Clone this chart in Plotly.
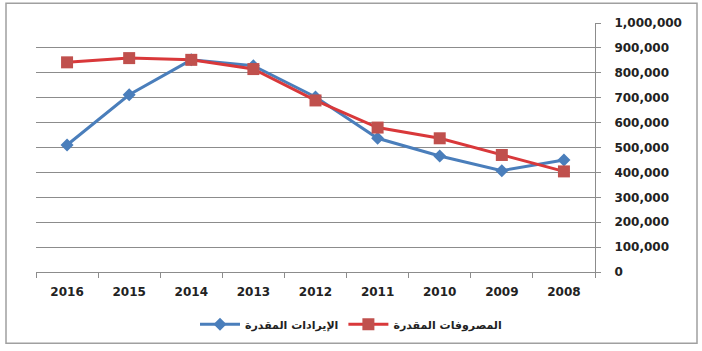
import plotly.graph_objects as go

years = ["2016", "2015", "2014", "2013", "2012", "2011", "2010", "2009", "2008"]
revenues = [510000, 712000, 852000, 828000, 703000, 537000, 466000, 407000, 450000]
expenses = [842000, 859000, 852000, 815000, 689000, 580000, 537000, 470000, 404000]
rev_name = "الإيرادات المقدرة"
exp_name = "المصروفات المقدرة"
y_ticks = [0, 100000, 200000, 300000, 400000, 500000, 600000, 700000, 800000, 900000, 1000000]

W, H = 702, 351
L, R, T, B = 36, 107, 23, 76
pw, ph = W - L - R, H - T - B

def px_x(x):
    return (x - L) / pw

def px_y(y):
    return (H - B - y) / ph

fig = go.Figure()
fig.add_trace(go.Scatter(
    x=years, y=revenues, name=rev_name, mode="lines+markers",
    line=dict(color="#4A7EBB", width=3),
    marker=dict(symbol="diamond", size=10, color="#4A7EBB"),
))
fig.add_trace(go.Scatter(
    x=years, y=expenses, name=exp_name, mode="lines+markers",
    line=dict(color="#D9383A", width=3),
    marker=dict(symbol="square", size=12, color="#C0504D"),
))

fig.update_layout(
    width=W, height=H,
    margin=dict(l=L, r=R, t=T, b=B, pad=0),
    paper_bgcolor="white", plot_bgcolor="white",
    showlegend=True,
    legend=dict(
        orientation="h", x=px_x(351), y=px_y(328), xanchor="center", yanchor="middle",
        font=dict(family="DejaVu Sans", size=11, color="#222", weight="bold"),
        itemwidth=40, tracegroupgap=0,
    ),
    xaxis=dict(
        type="category", categoryorder="array", categoryarray=years,
        showgrid=False, showline=True, linecolor="#8c8c8c", linewidth=1,
        ticks="outside", tickson="boundaries", ticklen=5, tickcolor="#8c8c8c",
        tickfont=dict(family="DejaVu Sans", size=12, color="#222", weight="bold"),
        ticklabelstandoff=9,
        range=[-0.5, 8.5], fixedrange=True,
    ),
    yaxis=dict(
        side="right", range=[0, 1000000], tickvals=y_ticks,
        tickformat=",d", showgrid=True, gridcolor="#8c8c8c", gridwidth=1,
        showline=True, linecolor="#8c8c8c", linewidth=1,
        ticks="outside", ticklen=5, tickcolor="#8c8c8c",
        tickfont=dict(family="DejaVu Sans", size=12, color="#222", weight="bold"),
        ticklabelstandoff=11,
        zeroline=False, fixedrange=True,
    ),
    shapes=[dict(
        type="rect", xref="paper", yref="paper",
        x0=px_x(6), x1=px_x(697), y0=px_y(347), y1=px_y(3),
        line=dict(color="#a0a0a0", width=1.5), fillcolor="rgba(0,0,0,0)", layer="below",
    )],
)

fig.write_html("out.html")
